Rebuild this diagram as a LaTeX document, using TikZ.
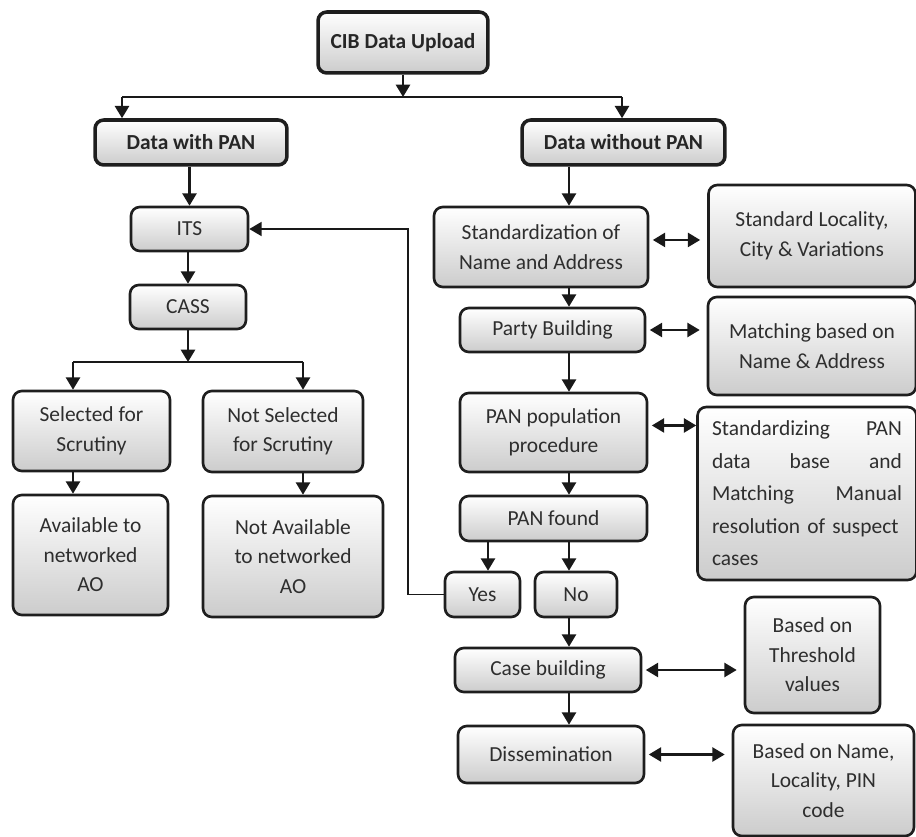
\documentclass[tikz,border=0pt]{standalone}
\usepackage{fontspec}
\setmainfont{Carlito}
\usetikzlibrary{arrows.meta}
\definecolor{rand}{HTML}{1E1E1E}
\definecolor{schrift}{HTML}{2E2E2E}

\begin{document}
\begin{tikzpicture}[x=0.02cm, y=-0.02cm,
		kasten/.style={draw=rand, line width=1.5pt, rounded corners=5pt, top color=white, bottom color=black!20, text=schrift, align=center, inner sep=2pt, font=\fontsize{12.2pt}{16.8pt}\selectfont},
		fett/.style={kasten, line width=2pt, text=black!85, font=\bfseries\fontsize{12.2pt}{16.8pt}\selectfont},
		pfeil/.style={draw=black!90, line width=1.3pt, -{Triangle[length=7pt,width=8pt]}},
		doppel/.style={pfeil, {Triangle[length=7pt,width=8pt]}-{Triangle[length=7pt,width=8pt]}, shorten <=2pt, shorten >=4pt},
		linie/.style={draw=black!90, line width=1.3pt}]
		\useasboundingbox (0,0) rectangle (916,837);

		% Koordinaten
		\coordinate (t1) at (122,97);
		\coordinate (t2) at (622,97);
		\coordinate (t3) at (73,362);
		\coordinate (t4) at (303,362);
		\coordinate (r) at (569,0);
		\coordinate (ja) at (488,0);
		\coordinate (fb) at (408,0);

		% Kopf
		\node[fett, minimum width=3.4cm, minimum height=1.22cm] (cib) at (403,42.5) {CIB Data Upload};
		\node[fett, minimum width=3.84cm, minimum height=0.9cm] (mitpan) at (191,142.5) {Data with PAN};
		\node[fett, minimum width=4.06cm, minimum height=0.9cm] (ohnepan) at (623.5,142.5) {Data without PAN};

		% linker Zweig
		\node[kasten, minimum width=2.34cm, minimum height=0.88cm] (its) at (189.5,229) {ITS};
		\node[kasten, minimum width=2.32cm, minimum height=0.88cm] (cass) at (188,307) {CASS};
		\node[kasten, minimum width=3.14cm, minimum height=1.6cm] (sel) at (91.5,431) {Selected for\\Scrutiny};
		\node[kasten, minimum width=3.2cm, minimum height=1.62cm] (nsel) at (283,431.5) {Not Selected\\for Scrutiny};
		\node[kasten, minimum width=3.1cm, minimum height=2.4cm] (avail) at (90.5,555) {Available to\\networked\\AO};
		\node[kasten, minimum width=3.6cm, minimum height=2.42cm] (navail) at (293,556.5) {Not Available\\to networked\\AO};

		% rechter Zweig
		\node[kasten, minimum width=4.28cm, minimum height=1.6cm] (std) at (541,247) {Standardization of\\Name and Address};
		\node[kasten, minimum width=3.7cm, minimum height=0.88cm] (party) at (552.5,330) {Party Building};
		\node[kasten, minimum width=3.74cm, minimum height=1.58cm] (pop) at (553.5,432.5) {PAN population\\procedure};
		\node[kasten, minimum width=3.74cm, minimum height=0.9cm] (found) at (553.5,518.5) {PAN found};
		\node[kasten, minimum width=1.5cm, minimum height=0.9cm] (yes) at (482.5,594.5) {Yes};
		\node[kasten, minimum width=1.64cm, minimum height=0.9cm] (no) at (576,594.5) {No};
		\node[kasten, minimum width=3.72cm, minimum height=0.88cm] (case) at (548,670) {Case building};
		\node[kasten, minimum width=3.72cm, minimum height=1.14cm] (diss) at (551,754.5) {Dissemination};

		% Hinweise
		\node[kasten, minimum width=4.14cm, minimum height=2.04cm] (loc) at (812,236) {Standard Locality,\\City \& Variations};
		\node[kasten, minimum width=4.16cm, minimum height=1.96cm] (match) at (812,346) {Matching based on\\Name \& Address};
		\node[kasten, minimum width=4.38cm, minimum height=3.46cm, align=left, text width=3.8cm, font=\fontsize{12.2pt}{18.5pt}\selectfont] (stdpan) at (807,493.5) {Standardizing\hfill PAN\\data\hfill base\hfill and\\Matching\hfill Manual\\\mbox{resolution of suspect}\\cases};
		\node[kasten, minimum width=2.7cm, minimum height=2.32cm] (thr) at (812.5,655) {Based on\\Threshold\\values};
		\node[kasten, minimum width=3.62cm, minimum height=2.22cm] (pin) at (823.5,780.5) {Based on Name,\\Locality, PIN\\code};

		% Pfeile oben
		\draw[pfeil] (cib) -- (cib |- t1);
		\draw[linie] (t1) -- (t2);
		\draw[pfeil] (t1) -- (t1 |- mitpan.north);
		\draw[pfeil] (t2) -- (t2 |- ohnepan.north);

		% Pfeile links
		\draw[pfeil] (its |- mitpan.south) -- (its.north);
		\draw[pfeil] (cass |- its.south) -- (cass.north);
		\draw[pfeil] (cass) -- (cass |- t3);
		\draw[linie] (t3) -- (t4);
		\draw[pfeil] (t3) -- (t3 |- sel.north);
		\draw[pfeil] (t4) -- (t4 |- nsel.north);
		\draw[pfeil] (t3 |- sel.south) -- (t3 |- avail.north);
		\draw[pfeil] (t4 |- nsel.south) -- (t4 |- navail.north);

		% Pfeile rechts
		\draw[pfeil] (r |- ohnepan.south) -- (r |- std.north);
		\draw[pfeil] (r |- std.south) -- (r |- party.north);
		\draw[pfeil] (r |- party.south) -- (r |- pop.north);
		\draw[pfeil] (r |- pop.south) -- (r |- found.north);
		\draw[pfeil] (ja |- found.south) -- (ja |- yes.north);
		\draw[pfeil] (r |- found.south) -- (r |- no.north);
		\draw[pfeil] (r |- no.south) -- (r |- case.north);
		\draw[pfeil] (r |- case.south) -- (r |- diss.north);

		% Rueckfuehrung
		\draw[pfeil, line width=0.9pt] (yes.west) -- (fb |- yes.west) |- (its.east);

		% Doppelpfeile
		\coordinate (d1) at ([yshift=4pt]std.east);
		\coordinate (d3) at ([yshift=4pt]pop.east);
		\draw[doppel] (d1) -- (d1 -| loc.west);
		\draw[doppel] (party.east) -- (party.east -| match.west);
		\draw[doppel, shorten >=0pt] (d3) -- (d3 -| stdpan.west);
		\draw[doppel] (case.east) -- (case.east -| thr.west);
		\draw[doppel] (diss.east) -- (diss.east -| pin.west);
	\end{tikzpicture}
\end{document}
